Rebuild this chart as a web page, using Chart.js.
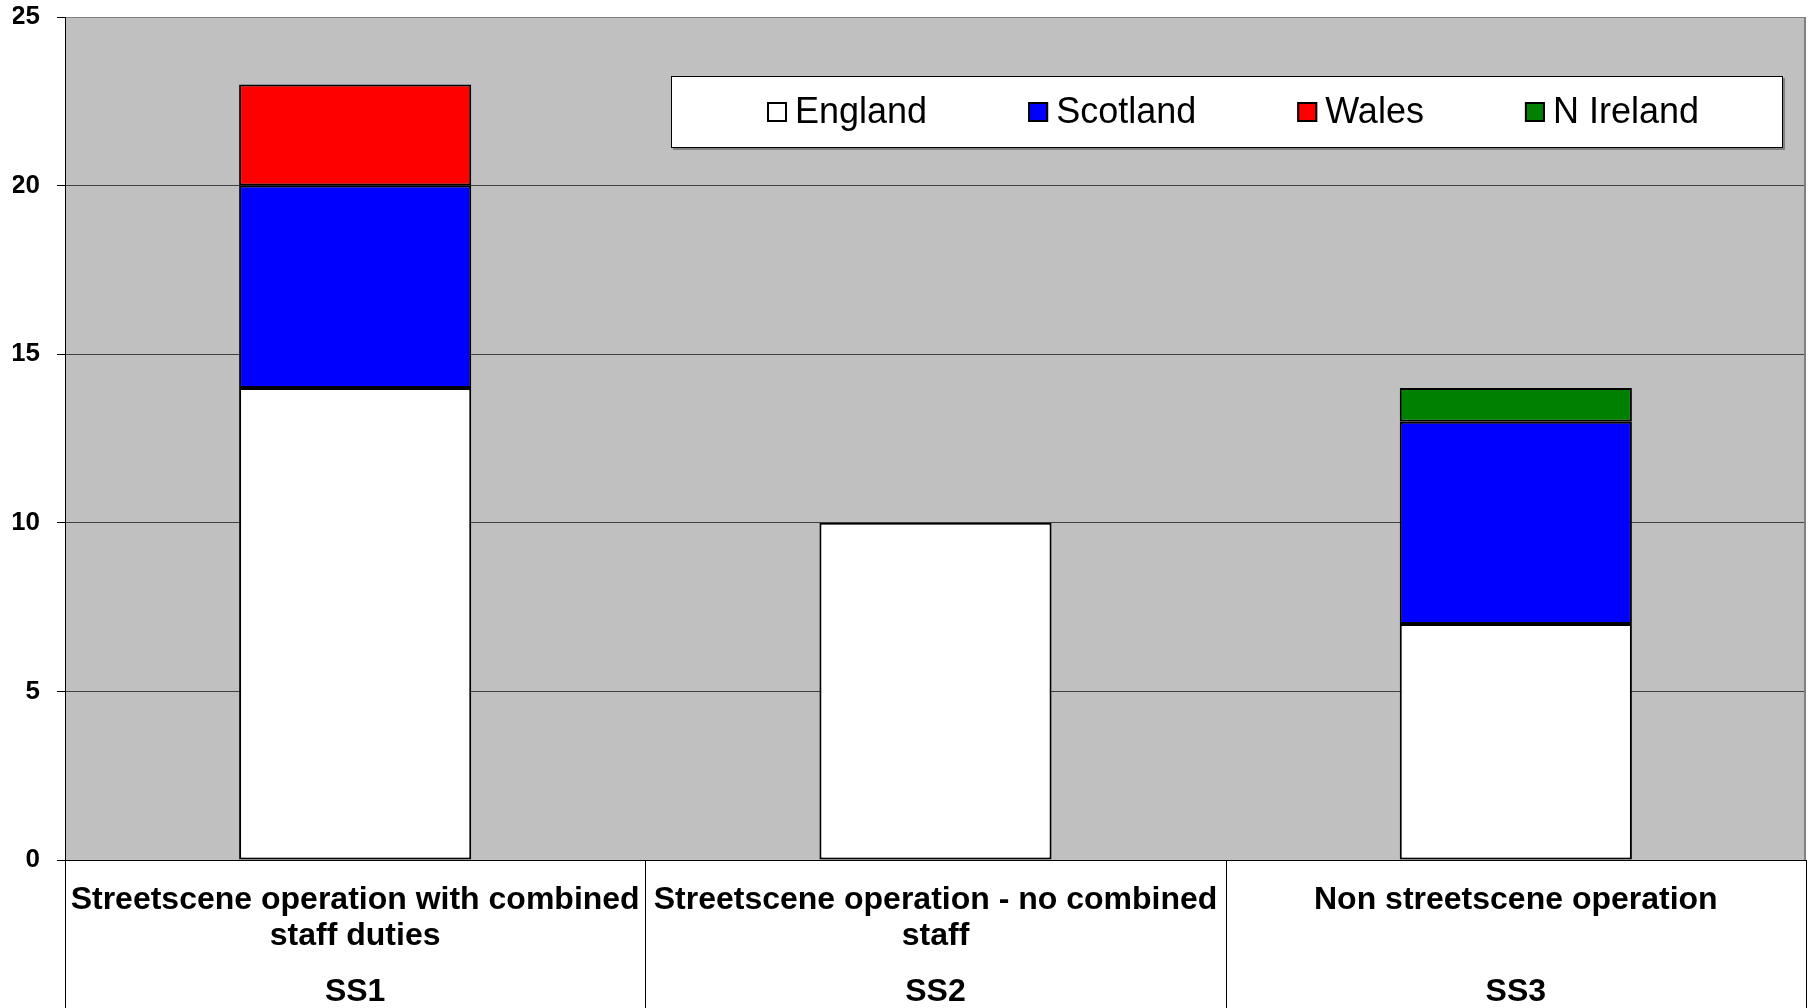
<!DOCTYPE html>
<html>
<head>
<meta charset="utf-8">
<script src="https://cdn.jsdelivr.net/npm/chart.js@4.4.0/dist/chart.umd.min.js"></script>
<style>
  html, body { margin: 0; padding: 0; background: #fff; }
  #wrap { width: 1812px; height: 1008px; }
</style>
</head>
<body>
<div id="wrap"><canvas id="chart" width="1812" height="1008"></canvas></div>
<script>
const categories = [
  ['Streetscene operation with combined', 'staff duties'],
  ['Streetscene operation - no combined', 'staff'],
  'Non streetscene operation'
];
const groupLabels = ['SS1', 'SS2', 'SS3'];
const englandValues = [14, 10, 7];
const scotlandValues = [6, 0, 6];
const walesValues = [3, 0, 0];
const nIrelandValues = [0, 0, 1];
const yMin = 0;
const yMax = 25;
const yStep = 5;

const FONT = '"Liberation Sans", Arial, sans-serif';

// grey plot area, right border and the category dividers under the axis
const plotFrame = {
  id: 'plotFrame',
  beforeDraw(chart) {
    const { ctx, chartArea: a } = chart;
    ctx.save();
    ctx.fillStyle = '#c0c0c0';
    ctx.fillRect(a.left, a.top, a.right - a.left, a.bottom - a.top);
    ctx.restore();
  },
  afterDraw(chart) {
    const { ctx, chartArea: a } = chart;
    const xs = chart.scales.x;
    const band = (xs.right - xs.left) / categories.length;
    ctx.save();
    ctx.strokeStyle = '#808080';
    ctx.lineWidth = 2;
    ctx.beginPath();
    ctx.moveTo(a.right - 1, a.top);
    ctx.lineTo(a.right - 1, a.bottom);
    ctx.stroke();
    ctx.strokeStyle = '#000';
    ctx.lineWidth = 1;
    for (let i = 0; i <= categories.length; i++) {
      const x = Math.round(xs.left + i * band) + 0.5;
      ctx.beginPath();
      ctx.moveTo(x, a.bottom);
      ctx.lineTo(x, chart.height);
      ctx.stroke();
    }
    ctx.restore();
  }
};

// legend drawn as a white box inside the plot, like the spreadsheet one
const boxLegend = {
  id: 'boxLegend',
  afterDatasetsDraw(chart) {
    const { ctx, chartArea: a } = chart;
    const left = a.left + 606, top = a.top + 59, w = 1112, h = 72;
    ctx.save();
    ctx.fillStyle = '#808080';
    ctx.fillRect(left + 2, top + 2, w, h);
    ctx.fillStyle = '#fff';
    ctx.fillRect(left, top, w, h);
    ctx.strokeStyle = '#000';
    ctx.lineWidth = 1;
    ctx.strokeRect(left + 0.5, top + 0.5, w - 1, h - 1);

    ctx.font = '36px ' + FONT;
    ctx.textBaseline = 'middle';
    const marker = 20, gapText = 8, gapItem = 101;
    const items = chart.data.datasets.map(d => ({ label: d.label, color: d.backgroundColor, width: ctx.measureText(d.label).width }));
    const total = items.reduce((s, it) => s + marker + gapText + it.width, 0) + gapItem * (items.length - 1);
    let x = left + (w - total) / 2 + 6;
    const cy = top + h / 2;
    items.forEach(it => {
      ctx.fillStyle = it.color;
      ctx.fillRect(x, cy - marker / 2, marker, marker);
      ctx.strokeStyle = '#000';
      ctx.lineWidth = 2;
      ctx.strokeRect(x + 1, cy - marker / 2 + 1, marker - 2, marker - 2);
      ctx.fillStyle = '#000';
      ctx.fillText(it.label, x + marker + gapText, cy + 1);
      x += marker + gapText + it.width + gapItem;
    });
    ctx.restore();
  }
};

const barStyle = { borderColor: '#000', borderWidth: 2, borderSkipped: false, barPercentage: 0.4, categoryPercentage: 1 };

new Chart(document.getElementById('chart'), {
  type: 'bar',
  data: {
    labels: categories,
    datasets: [
      { label: 'England', data: englandValues, backgroundColor: '#ffffff', ...barStyle },
      { label: 'Scotland', data: scotlandValues, backgroundColor: '#0000ff', ...barStyle },
      { label: 'Wales', data: walesValues, backgroundColor: '#ff0000', ...barStyle },
      { label: 'N Ireland', data: nIrelandValues, backgroundColor: '#008000', ...barStyle }
    ]
  },
  options: {
    responsive: false,
    animation: false,
    layout: { padding: { left: 13, right: 6, top: 17, bottom: 0 } },
    plugins: { legend: { display: false }, tooltip: { enabled: false } },
    scales: {
      x: {
        stacked: true,
        grid: { display: false, drawTicks: false },
        border: { display: true, color: '#000', width: 1 },
        ticks: {
          color: '#000',
          font: { family: FONT, size: 32, weight: 'bold', lineHeight: 1.125 },
          padding: 22,
          maxRotation: 0,
          minRotation: 0,
          autoSkip: false
        }
      },
      x2: {
        type: 'category',
        labels: groupLabels,
        position: 'bottom',
        offset: true,
        grid: { display: false, drawTicks: false },
        border: { display: false },
        ticks: {
          color: '#000',
          font: { family: FONT, size: 32, weight: 'bold', lineHeight: 1.125 },
          padding: -2,
          maxRotation: 0,
          autoSkip: false
        }
      },
      y: {
        stacked: true,
        min: yMin,
        max: yMax,
        afterFit(scale) {
          scale.width = 52;
          scale.paddingTop = 14;
          scale.paddingBottom = 14;
        },
        ticks: {
          stepSize: yStep,
          color: '#000',
          font: { family: FONT, size: 26, weight: 'bold' },
          padding: 17
        },
        grid: {
          color: c => c.tick.value === yMax ? '#808080' : (c.tick.value === yMin ? '#000' : '#404040'),
          tickColor: '#000',
          tickLength: 8,
          lineWidth: 1
        },
        border: { display: true, color: '#000', width: 1 }
      }
    }
  },
  plugins: [plotFrame, boxLegend]
});
</script>
</body>
</html>
